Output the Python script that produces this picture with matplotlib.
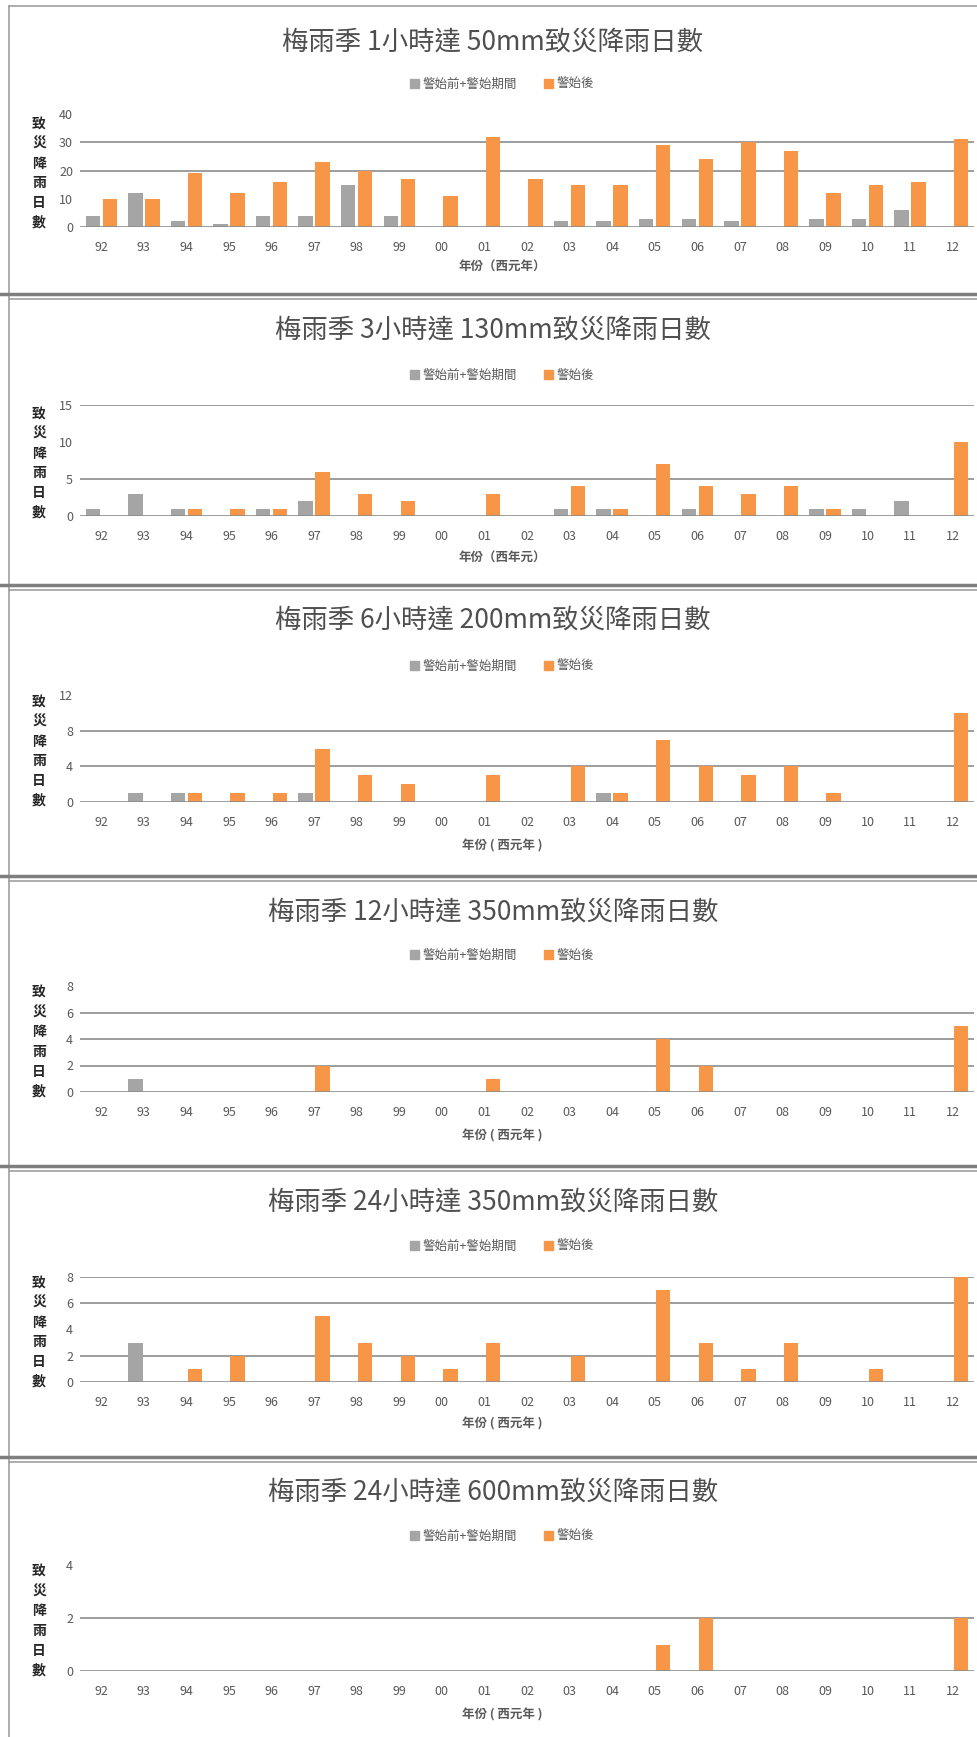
import numpy as np
import matplotlib
matplotlib.use('Agg')
import matplotlib.pyplot as plt
from matplotlib.lines import Line2D

plt.rcParams['font.family'] = ['Noto Sans CJK TC', 'DejaVu Sans']

# data
years = ['92', '93', '94', '95', '96', '97', '98', '99', '00', '01', '02',
         '03', '04', '05', '06', '07', '08', '09', '10', '11', '12']

before_1h50 = [4, 12, 2, 1, 4, 4, 15, 4, 0, 0, 0, 2, 2, 3, 3, 2, 0, 3, 3, 6, 0]
after_1h50 = [10, 10, 19, 12, 16, 23, 20, 17, 11, 32, 17, 15, 15, 29, 24, 30, 27, 12, 15, 16, 31]

before_3h130 = [1, 3, 1, 0, 1, 2, 0, 0, 0, 0, 0, 1, 1, 0, 1, 0, 0, 1, 1, 2, 0]
after_3h130 = [0, 0, 1, 1, 1, 6, 3, 2, 0, 3, 0, 4, 1, 7, 4, 3, 4, 1, 0, 0, 10]

before_6h200 = [0, 1, 1, 0, 0, 1, 0, 0, 0, 0, 0, 0, 1, 0, 0, 0, 0, 0, 0, 0, 0]
after_6h200 = [0, 0, 1, 1, 1, 6, 3, 2, 0, 3, 0, 4, 1, 7, 4, 3, 4, 1, 0, 0, 10]

before_12h350 = [0, 1, 0, 0, 0, 0, 0, 0, 0, 0, 0, 0, 0, 0, 0, 0, 0, 0, 0, 0, 0]
after_12h350 = [0, 0, 0, 0, 0, 2, 0, 0, 0, 1, 0, 0, 0, 4, 2, 0, 0, 0, 0, 0, 5]

before_24h350 = [0, 3, 0, 0, 0, 0, 0, 0, 0, 0, 0, 0, 0, 0, 0, 0, 0, 0, 0, 0, 0]
after_24h350 = [0, 0, 1, 2, 0, 5, 3, 2, 1, 3, 0, 2, 0, 7, 3, 1, 3, 0, 1, 0, 8]

before_24h600 = [0] * 21
after_24h600 = [0, 0, 0, 0, 0, 0, 0, 0, 0, 0, 0, 0, 0, 1, 2, 0, 0, 0, 0, 0, 2]

titles = ['梅雨季 1小時達 50mm致災降雨日數',
          '梅雨季 3小時達 130mm致災降雨日數',
          '梅雨季 6小時達 200mm致災降雨日數',
          '梅雨季 12小時達 350mm致災降雨日數',
          '梅雨季 24小時達 350mm致災降雨日數',
          '梅雨季 24小時達 600mm致災降雨日數']
xlabels = ['年份（西元年）', '年份（西年元）', '年份 ( 西元年 )',
           '年份 ( 西元年 )', '年份 ( 西元年 )', '年份 ( 西元年 )']
legend_labels = ['警始前+警始期間', '警始後']
yticks_list = [[0, 10, 20, 30, 40], [0, 5, 10, 15], [0, 4, 8, 12],
               [0, 2, 4, 6, 8], [0, 2, 4, 6, 8], [0, 2, 4]]
# gridlines that are visible in the original
grids_list = [[20, 30], [5, 15], [4, 8], [2, 4, 6], [2, 6, 8], [2]]

befores = [before_1h50, before_3h130, before_6h200, before_12h350, before_24h350, before_24h600]
afters = [after_1h50, after_3h130, after_6h200, after_12h350, after_24h350, after_24h600]

# layout in pixels (full size)
W, H = 977, 1737
title_y = [42, 330, 620, 912, 1202, 1492]
legend_y = [84, 375, 666, 955, 1246, 1536]
top_y = [114, 405, 695, 986, 1277, 1565]
zero_y = [227, 516, 802, 1092, 1382, 1671]
xlab_y = [267, 558, 846, 1136, 1424, 1715]
seps = [294, 585, 876, 1166, 1457]
x0, x1 = 80, 974

GRAY = '#A5A5A5'
ORANGE = '#F79646'
TXT = '#595959'
GRID = '#8C8C8C'

fig = plt.figure(figsize=(W / 100, H / 100), dpi=100)

def fy(y):
    return 1 - y / H

x = np.arange(len(years))
for i in range(6):
    ax = fig.add_axes([x0 / W, fy(zero_y[i]), (x1 - x0) / W, (zero_y[i] - top_y[i]) / H])
    ax.bar(x - 0.2, befores[i], 0.34, color=GRAY, zorder=3)
    ax.bar(x + 0.2, afters[i], 0.34, color=ORANGE, zorder=3)
    ax.set_xlim(-0.5, len(years) - 0.5)
    ax.set_ylim(0, yticks_list[i][-1])
    ax.set_yticks(yticks_list[i])
    ax.set_xticks(x)
    ax.set_xticklabels(years)
    for g in grids_list[i]:
        ax.axhline(g, color=GRID, lw=1.2, zorder=1)
    ax.axhline(0, color=GRID, lw=1.2, zorder=4)
    for s in ax.spines.values():
        s.set_visible(False)
    ax.tick_params(length=0, labelsize=9, colors=TXT)
    ax.tick_params(axis='x', pad=10)
    ax.tick_params(axis='y', pad=5)
    ax.patch.set_alpha(0)

    fig.text(493 / W, fy(title_y[i]), titles[i], ha='center', va='center',
             fontsize=19, color='#4F4F4F')
    fig.text(502 / W, fy(xlab_y[i]), xlabels[i], ha='center', va='center',
             fontsize=9, color=TXT, fontweight='bold')
    fig.text(39 / W, fy((top_y[i] + zero_y[i]) / 2 + 3), '致\n災\n降\n雨\n日\n數',
             ha='center', va='center', fontsize=10, fontweight='bold',
             color='#262626', linespacing=1.52)
    handles = [plt.Rectangle((0, 0), 1, 1, color=GRAY), plt.Rectangle((0, 0), 1, 1, color=ORANGE)]
    fig.legend(handles, legend_labels, loc='center', bbox_to_anchor=(502 / W, fy(legend_y[i])),
               ncol=2, frameon=False, fontsize=9, handlelength=0.7, handleheight=0.7,
               handletextpad=0.3, columnspacing=2.2, labelcolor=TXT)

# panel frames
fig.add_artist(Line2D([9 / W, 9 / W], [0, fy(6)], color='#A0A0A0', lw=1.2))
fig.add_artist(Line2D([9 / W, 1], [fy(6), fy(6)], color='#A0A0A0', lw=1.2))
for s in seps:
    fig.add_artist(Line2D([0, 1], [fy(s), fy(s)], color='#7F7F7F', lw=2.5))
    fig.add_artist(Line2D([9 / W, 1], [fy(s + 5), fy(s + 5)], color='#A0A0A0', lw=1.2))

fig.savefig('out.png', dpi=100, facecolor='white')
